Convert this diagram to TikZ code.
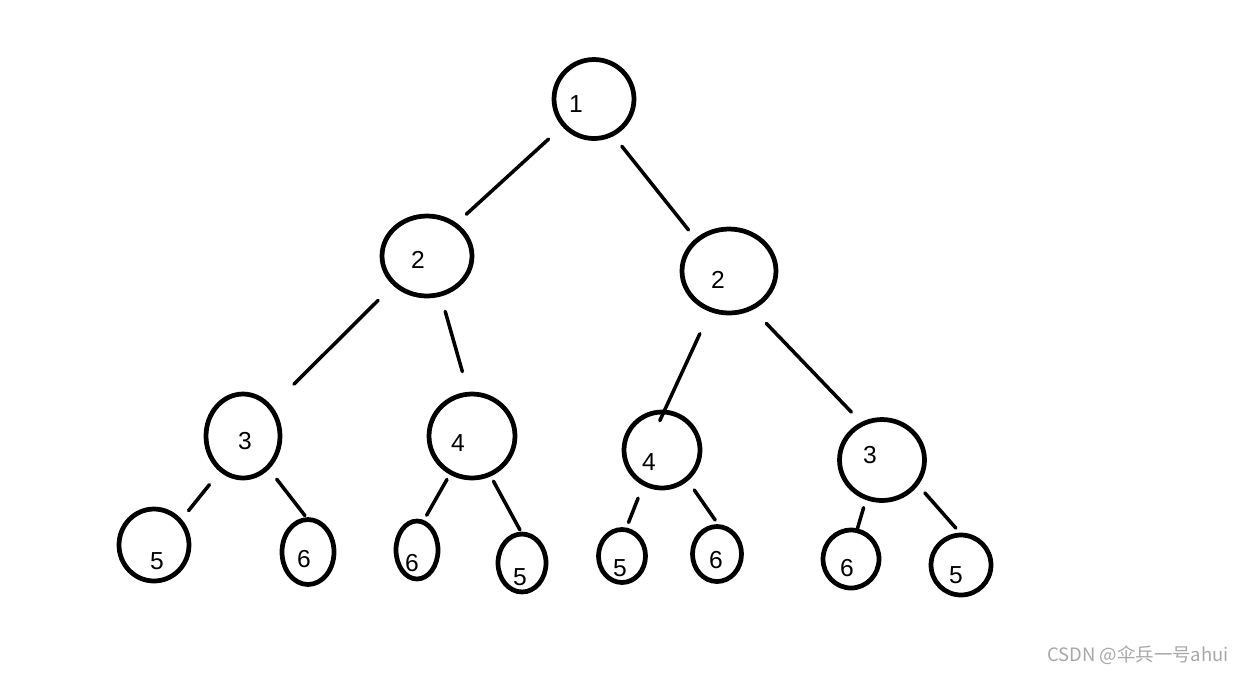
\documentclass[tikz,border=0pt]{standalone}
\usepackage{fontspec}
\setmainfont{Liberation Sans}
\newfontfamily\cjk{Noto Sans CJK SC}
\usetikzlibrary{shapes.geometric}
\definecolor{wmgray}{HTML}{A8A8A8}
\tikzset{
    knot/.style={draw, ellipse, line width=2.7pt, inner sep=0pt},
    num/.style={font=\fontsize{14}{14}\selectfont},
    branch/.style={line width=2pt, line cap=round},
}
\begin{document}
\begin{tikzpicture}[x=0.02cm,y=-0.02cm]
        \useasboundingbox[fill=white] (0,0) rectangle (1247,674);
        \node[knot, minimum width=1.60cm, minimum height=1.58cm, label={[num,xshift=-0.36cm,yshift=-0.10cm]center:1}] (r) at (594,99){};
        \node[knot, minimum width=1.80cm, minimum height=1.60cm, label={[num,xshift=-0.18cm,yshift=-0.08cm]center:2}] (a) at (427,256){};
        \node[knot, minimum width=1.88cm, minimum height=1.68cm, label={[num,xshift=-0.22cm,yshift=-0.18cm]center:2}] (b) at (729,271){};
        \node[knot, minimum width=1.48cm, minimum height=1.68cm, label={[num,xshift=0.04cm,yshift=-0.10cm]center:3}] (aa) at (243,436){};
        \node[knot, minimum width=1.72cm, minimum height=1.68cm, label={[num,xshift=-0.28cm,yshift=-0.14cm]center:4}] (ab) at (472,436){};
        \node[knot, minimum width=1.52cm, minimum height=1.52cm, label={[num,xshift=-0.26cm,yshift=-0.24cm]center:4}] (ba) at (662,450){};
        \node[knot, minimum width=1.70cm, minimum height=1.62cm, label={[num,xshift=-0.24cm,yshift=0.10cm]center:3}] (bb) at (882,460){};
        \node[knot, minimum width=1.40cm, minimum height=1.44cm, label={[num,xshift=0.06cm,yshift=-0.32cm]center:5}] (aaa) at (154,545){};
        \node[knot, minimum width=1.04cm, minimum height=1.30cm, label={[num,xshift=-0.08cm,yshift=-0.14cm]center:6}] (aab) at (308,552){};
        \node[knot, minimum width=0.84cm, minimum height=1.16cm, label={[num,xshift=-0.10cm,yshift=-0.26cm]center:6}] (aba) at (417,550){};
        \node[knot, minimum width=0.96cm, minimum height=1.16cm, label={[num,xshift=-0.04cm,yshift=-0.28cm]center:5}] (abb) at (522,563){};
        \node[knot, minimum width=0.94cm, minimum height=1.06cm, label={[num,xshift=-0.04cm,yshift=-0.24cm]center:5}] (baa) at (622,556){};
        \node[knot, minimum width=0.98cm, minimum height=1.10cm, label={[num,xshift=-0.02cm,yshift=-0.12cm]center:6}] (bab) at (717,554){};
        \node[knot, minimum width=1.12cm, minimum height=1.16cm, label={[num,xshift=-0.08cm,yshift=-0.18cm]center:6}] (bba) at (851,559){};
        \node[knot, minimum width=1.20cm, minimum height=1.20cm, label={[num,xshift=-0.10cm,yshift=-0.20cm]center:5}] (bbb) at (961,565){};
        \draw[branch, shorten <=0.37cm, shorten >=0.26cm] (r.221) to (a.48);
        \draw[branch, shorten <=0.26cm, shorten >=0.22cm] (r.298) to (b.136);
        \draw[branch, shorten <=0.42cm, shorten >=0.62cm] (a.221) to (aa.46);
        \draw[branch, shorten <=0.31cm, shorten >=0.42cm] (a.289) to (ab.95);
        \draw[branch, shorten <=0.48cm, shorten >=-0.24cm] (b.245) to (ba.86);
        \draw[branch, shorten <=0.38cm, shorten >=0.28cm] (b.302) to (bb.119);
        \draw[branch, shorten <=0.33cm, shorten >=0.22cm] (aa.237) to (aaa.43);
        \draw[branch, shorten <=0.25cm, shorten >=0.04cm] (aa.308) to (aab.93);
        \draw[branch, shorten <=0.11cm, shorten >=0.11cm] (ab.240) to (aba.77);
        \draw[branch, shorten <=0.11cm, shorten >=0.04cm] (ab.295) to (abb.92);
        \draw[branch, shorten <=0.27cm, shorten >=0.11cm] (ba.242) to (baa.81);
        \draw[branch, shorten <=0.22cm, shorten >=0.10cm] (ba.310) to (bab.88);
        \draw[branch, shorten <=0.16cm, shorten >=-0.04cm] (bb.248) to (bba.78);
        \draw[branch, shorten <=0.20cm, shorten >=0.12cm] (bb.325) to (bbb.92);
        \node[wmgray, font=\cjk\fontsize{10.5}{10.5}\selectfont] (wm) at (1138,655){CSDN @伞兵一号ahui};
    \end{tikzpicture}
\end{document}
